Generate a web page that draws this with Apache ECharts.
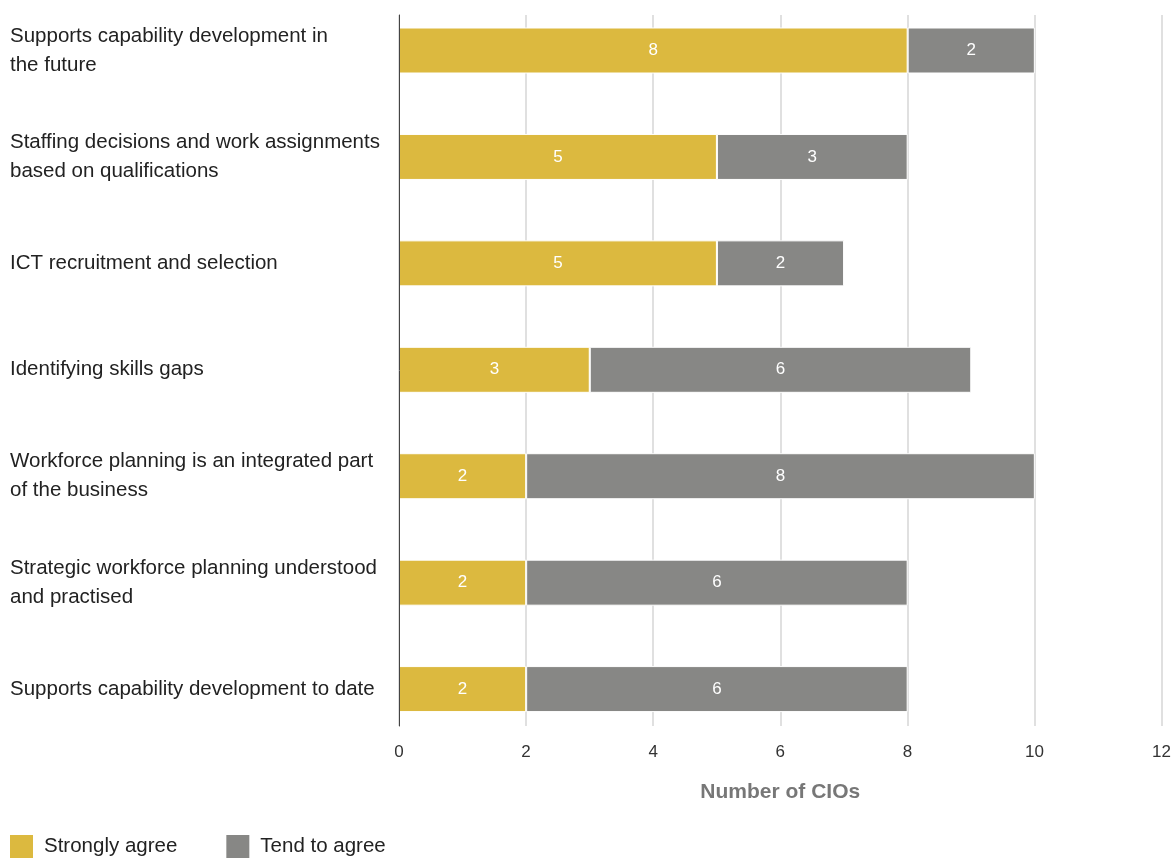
<!DOCTYPE html>
<html>
<head>
<meta charset="utf-8">
<script src="https://cdn.jsdelivr.net/npm/echarts@6/dist/echarts.min.js"></script>
<style>
  html, body { margin: 0; padding: 0; background: #ffffff; overflow: hidden; width: 1174px; height: 859px; }
  /* canvas starts a little above the page so the top bar band can reach past its edge */
  #chart { position: absolute; left: 0; top: -30px; width: 1174px; height: 889px; }
</style>
</head>
<body>
<div id="chart"></div>
<script>
// Survey statements, top to bottom
const categories = [
  'Supports capability development in\nthe future',
  'Staffing decisions and work assignments\nbased on qualifications',
  'ICT recruitment and selection',
  'Identifying skills gaps',
  'Workforce planning is an integrated part\nof the business',
  'Strategic workforce planning understood\nand practised',
  'Supports capability development to date'
];
const stronglyAgree = [8, 5, 5, 3, 2, 2, 2];
const tendToAgree = [2, 3, 2, 6, 8, 6, 6];
const xTicks = [0, 2, 4, 6, 8, 10, 12];

const FONT = '"Liberation Sans", Arial, sans-serif';
const YELLOW = '#dcb93f';
const GREY = '#878785';
const OFFSET = 30; // matches the negative top of #chart

const chart = echarts.init(document.getElementById('chart'), null, { renderer: 'canvas' });

const barLabel = {
  show: true,
  position: 'inside',
  color: '#ffffff',
  fontSize: 17,
  fontFamily: FONT,
  padding: [6, 0, 0, 0]
};

chart.setOption({
  animation: false,
  backgroundColor: '#ffffff',
  textStyle: { fontFamily: FONT },
  legend: {
    left: 10,
    top: 835 + OFFSET,
    padding: 0,
    itemWidth: 23,
    itemHeight: 23,
    itemGap: 49,
    icon: 'rect',
    itemStyle: { borderWidth: 0 },
    textStyle: { fontSize: 20.5, color: '#222222', fontFamily: FONT, padding: [8, 0, 0, 6] },
    data: ['Strongly agree', 'Tend to agree']
  },
  grid: [
    // frame grid: gridlines, value ticks and the category axis line
    { left: 399, right: 12, top: 15 + OFFSET, height: 711 },
    // bar grid: positions the category bands
    { left: 399, right: 12, top: OFFSET - 2.7, height: 745 }
  ],
  xAxis: [
    {
      gridIndex: 0,
      type: 'value',
      min: xTicks[0],
      max: xTicks[xTicks.length - 1],
      interval: 2,
      axisLine: { show: false },
      axisTick: { show: false },
      splitLine: { show: true, lineStyle: { color: '#d6d6d6', width: 1.5 } },
      axisLabel: { color: '#333333', fontSize: 17, margin: 18, fontFamily: FONT },
      name: 'Number of CIOs',
      nameLocation: 'middle',
      nameGap: 56,
      nameTextStyle: { color: '#777777', fontSize: 21, fontWeight: 'bold', fontFamily: FONT }
    },
    {
      gridIndex: 1,
      type: 'value',
      min: xTicks[0],
      max: xTicks[xTicks.length - 1],
      show: false
    }
  ],
  yAxis: [
    {
      gridIndex: 0,
      type: 'category',
      data: categories,
      inverse: true,
      z: 10,
      axisLine: { show: true, lineStyle: { color: '#444444', width: 1 } },
      axisTick: { show: false },
      axisLabel: { show: false },
      splitLine: { show: false }
    },
    {
      gridIndex: 1,
      type: 'category',
      data: categories,
      inverse: true,
      axisLine: { show: false },
      axisTick: { show: false },
      splitLine: { show: false },
      axisLabel: {
        align: 'left',
        margin: 389,
        color: '#222222',
        fontSize: 20.5,
        lineHeight: 29,
        padding: [7, 0, 0, 0],
        fontFamily: FONT
      }
    }
  ],
  series: [
    {
      name: 'Strongly agree',
      type: 'bar',
      stack: 'total',
      xAxisIndex: 1,
      yAxisIndex: 1,
      barWidth: 46,
      data: stronglyAgree,
      itemStyle: { color: YELLOW, borderColor: '#ffffff', borderWidth: 1 },
      label: barLabel
    },
    {
      name: 'Tend to agree',
      type: 'bar',
      stack: 'total',
      xAxisIndex: 1,
      yAxisIndex: 1,
      barWidth: 46,
      data: tendToAgree,
      itemStyle: { color: GREY, borderColor: '#ffffff', borderWidth: 1 },
      label: barLabel
    }
  ]
});
</script>
</body>
</html>
